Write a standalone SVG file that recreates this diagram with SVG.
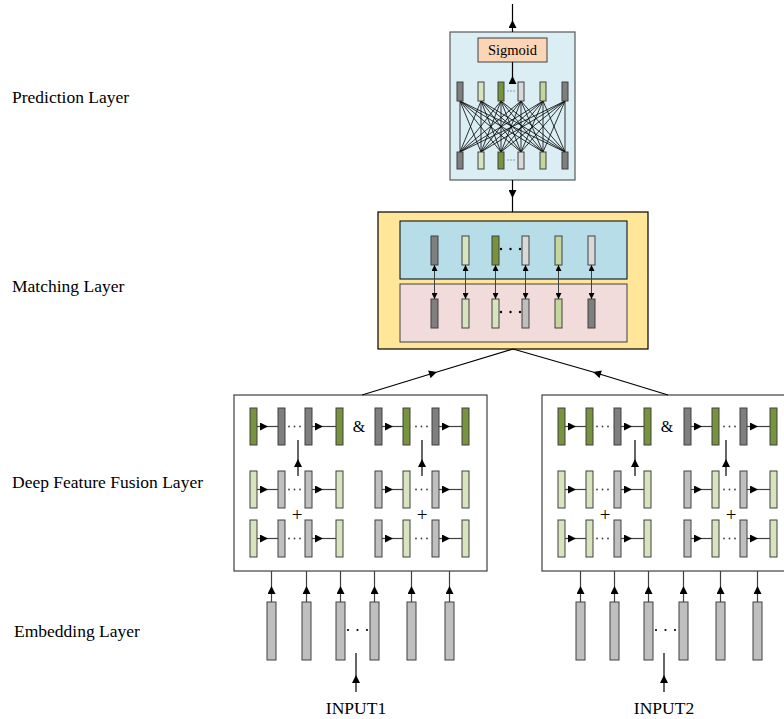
<svg xmlns="http://www.w3.org/2000/svg" width="784" height="719" viewBox="0 0 784 719">
<style>
.lbl{font-family:"Liberation Serif","Times New Roman",serif;font-size:17.5px;fill:#000}
.sym{font-family:"Liberation Serif","Times New Roman",serif;fill:#000;text-anchor:middle}
.bar{stroke:#404040;stroke-width:1}
.dg{fill:#7F7F7F}.lg{fill:#BFBFBF}.vl{fill:#D9D9D9}.lgn{fill:#D7E4BD}.dgn{fill:#77933C}.mgn{fill:#C3D69B}
.hl{stroke:#404040;stroke-width:1.2;fill:none;marker-mid:url(#ah)}
.bk{stroke:#000}
.fc{stroke:#000;stroke-width:0.8}
.dot{fill:#404040}
</style>
<defs>
<marker id="ah" viewBox="0 0 10 10" refX="10" refY="5" markerWidth="10" markerHeight="8" markerUnits="userSpaceOnUse" orient="auto"><path d="M0,0 L10,5 L0,10 z" fill="#000"/></marker>
<marker id="ah2" viewBox="0 0 10 10" refX="10" refY="5" markerWidth="7" markerHeight="6" markerUnits="userSpaceOnUse" orient="auto-start-reverse"><path d="M0,0 L10,5 L0,10 z" fill="#000"/></marker>
</defs>

<g id="labels">
<text class="lbl" x="12" y="103">Prediction Layer</text>
<text class="lbl" x="12" y="292">Matching Layer</text>
<text class="lbl" x="12" y="488">Deep Feature Fusion Layer</text>
<text class="lbl" x="14" y="637">Embedding Layer</text>
</g>

<g id="prediction">
<rect x="450" y="32" width="125" height="148" fill="#DAEEF3" stroke="#595959" stroke-width="1.2"/>
<rect x="478" y="38" width="69" height="24" fill="#FBD5B5" stroke="#404040" stroke-width="1"/>
<text class="sym" x="512.5" y="55" font-size="14.5">Sigmoid</text>
<g id="fullconn">
<path class="fc" d="M460,101L460,152M460,101L481,152M460,101L501,152M460,101L521,152M460,101L543,152M460,101L565,152
M481,101L460,152M481,101L481,152M481,101L501,152M481,101L521,152M481,101L543,152M481,101L565,152
M501,101L460,152M501,101L481,152M501,101L501,152M501,101L521,152M501,101L543,152M501,101L565,152
M521,101L460,152M521,101L481,152M521,101L501,152M521,101L521,152M521,101L543,152M521,101L565,152
M543,101L460,152M543,101L481,152M543,101L501,152M543,101L521,152M543,101L543,152M543,101L565,152
M565,101L460,152M565,101L481,152M565,101L501,152M565,101L521,152M565,101L543,152M565,101L565,152"/>
</g>
<rect class="bar dg" x="457" y="82" width="6" height="19"/>
<rect class="bar lgn" x="478" y="82" width="6" height="19"/>
<rect class="bar dgn" x="498" y="82" width="6" height="19"/>
<rect class="bar vl" x="518" y="82" width="6" height="19"/>
<rect class="bar mgn" x="540" y="82" width="6" height="19"/>
<rect class="bar dg" x="562" y="82" width="6" height="19"/>
<rect class="bar dg" x="457" y="152" width="6" height="17"/>
<rect class="bar lgn" x="478" y="152" width="6" height="17"/>
<rect class="bar dgn" x="498" y="152" width="6" height="17"/>
<rect class="bar vl" x="518" y="152" width="6" height="17"/>
<rect class="bar mgn" x="540" y="152" width="6" height="17"/>
<rect class="bar dg" x="562" y="152" width="6" height="17"/>
<g fill="#7F7F7F">
<circle cx="508" cy="91" r="0.7"/><circle cx="511" cy="91" r="0.7"/><circle cx="514" cy="91" r="0.7"/>
<circle cx="508" cy="160" r="0.7"/><circle cx="511" cy="160" r="0.7"/><circle cx="514" cy="160" r="0.7"/>
</g>
</g>

<g id="matching">
<rect x="378" y="212" width="270" height="137" fill="#FFE699" stroke="#000" stroke-width="1.2"/>
<rect x="400" y="221" width="227" height="58" fill="#B7DEE8" stroke="#000" stroke-width="1"/>
<rect x="400" y="284" width="227" height="58" fill="#F2DCDB" stroke="#404040" stroke-width="1"/>
<rect class="bar dg" x="431" y="236" width="7" height="29"/>
<rect class="bar lgn" x="462" y="236" width="7" height="29"/>
<rect class="bar dgn" x="492" y="236" width="7" height="29"/>
<rect class="bar vl" x="522" y="236" width="7" height="29"/>
<rect class="bar mgn" x="555" y="236" width="7" height="29"/>
<rect class="bar vl" x="588" y="236" width="7" height="29"/>
<rect class="bar dg" x="431" y="299" width="7" height="29"/>
<rect class="bar lgn" x="462" y="299" width="7" height="29"/>
<rect class="bar lgn" x="492" y="299" width="7" height="29"/>
<rect class="bar lg" x="522" y="299" width="7" height="29"/>
<rect class="bar mgn" x="555" y="299" width="7" height="29"/>
<rect class="bar dg" x="588" y="299" width="7" height="29"/>
<g fill="#000">
<circle cx="501" cy="249" r="1.2"/><circle cx="510.5" cy="249" r="1.2"/><circle cx="520" cy="249" r="1.2"/>
<circle cx="501" cy="312" r="1.2"/><circle cx="510.5" cy="312" r="1.2"/><circle cx="520" cy="312" r="1.2"/>
</g>
<g stroke="#404040" stroke-width="1" marker-start="url(#ah2)" marker-end="url(#ah2)">
<line x1="434.5" y1="265" x2="434.5" y2="299"/>
<line x1="465.5" y1="265" x2="465.5" y2="299"/>
<line x1="495.5" y1="265" x2="495.5" y2="299"/>
<line x1="525.5" y1="265" x2="525.5" y2="299"/>
<line x1="558.5" y1="265" x2="558.5" y2="299"/>
<line x1="591.5" y1="265" x2="591.5" y2="299"/>
</g>
</g>

<g id="fusion1">
<rect x="234" y="395" width="253" height="176" fill="#FFFFFF" stroke="#404040" stroke-width="1.2"/>
<g id="f1arrows">
<path class="hl" d="M257,426.5L268,426.5L278,426.5"/><path class="hl" d="M312,426.5L323,426.5L336,426.5"/><path class="hl" d="M382,426.5L393,426.5L403,426.5"/><path class="hl" d="M439,426.5L450,426.5L462,426.5"/>
<path class="hl" d="M257,489.5L268,489.5L278,489.5"/><path class="hl" d="M312,489.5L323,489.5L336,489.5"/><path class="hl" d="M382,489.5L393,489.5L403,489.5"/><path class="hl" d="M439,489.5L450,489.5L462,489.5"/>
<path class="hl" d="M257,538.5L268,538.5L278,538.5"/><path class="hl" d="M312,538.5L323,538.5L336,538.5"/><path class="hl" d="M382,538.5L393,538.5L403,538.5"/><path class="hl" d="M439,538.5L450,538.5L462,538.5"/>
<path class="hl bk" d="M298,476L298,459L298,440"/>
<path class="hl bk" d="M422,476L422,459L422,440"/>
</g>
<g id="f1bars">
<rect class="bar dgn" x="250" y="408" width="7" height="37"/>
<rect class="bar dg" x="278" y="408" width="7" height="37"/>
<rect class="bar dg" x="305" y="408" width="7" height="37"/>
<rect class="bar dgn" x="336" y="408" width="7" height="37"/>
<rect class="bar dg" x="375" y="408" width="7" height="37"/>
<rect class="bar dgn" x="403" y="408" width="7" height="37"/>
<rect class="bar dg" x="432" y="408" width="7" height="37"/>
<rect class="bar dgn" x="462" y="408" width="7" height="37"/>
<rect class="bar lgn" x="250" y="471" width="7" height="37"/>
<rect class="bar lg" x="278" y="471" width="7" height="37"/>
<rect class="bar lg" x="305" y="471" width="7" height="37"/>
<rect class="bar lgn" x="336" y="471" width="7" height="37"/>
<rect class="bar lg" x="375" y="471" width="7" height="37"/>
<rect class="bar lgn" x="403" y="471" width="7" height="37"/>
<rect class="bar lg" x="432" y="471" width="7" height="37"/>
<rect class="bar lgn" x="462" y="471" width="7" height="37"/>
<rect class="bar lgn" x="250" y="520" width="7" height="37"/>
<rect class="bar lg" x="278" y="520" width="7" height="37"/>
<rect class="bar lg" x="305" y="520" width="7" height="37"/>
<rect class="bar lgn" x="336" y="520" width="7" height="37"/>
<rect class="bar lg" x="375" y="520" width="7" height="37"/>
<rect class="bar lgn" x="403" y="520" width="7" height="37"/>
<rect class="bar lg" x="432" y="520" width="7" height="37"/>
<rect class="bar lgn" x="462" y="520" width="7" height="37"/>
</g>
<g class="dot">
<circle cx="289" cy="426.5" r="0.9"/><circle cx="294.5" cy="426.5" r="0.9"/><circle cx="300" cy="426.5" r="0.9"/>
<circle cx="416" cy="426.5" r="0.9"/><circle cx="421.5" cy="426.5" r="0.9"/><circle cx="427" cy="426.5" r="0.9"/>
<circle cx="289" cy="489.5" r="0.9"/><circle cx="294.5" cy="489.5" r="0.9"/><circle cx="300" cy="489.5" r="0.9"/>
<circle cx="416" cy="489.5" r="0.9"/><circle cx="421.5" cy="489.5" r="0.9"/><circle cx="427" cy="489.5" r="0.9"/>
<circle cx="289" cy="538.5" r="0.9"/><circle cx="294.5" cy="538.5" r="0.9"/><circle cx="300" cy="538.5" r="0.9"/>
<circle cx="416" cy="538.5" r="0.9"/><circle cx="421.5" cy="538.5" r="0.9"/><circle cx="427" cy="538.5" r="0.9"/>
</g>
<text class="sym" x="359" y="432" font-size="16">&amp;</text>
<text class="sym" x="297" y="521" font-size="19">+</text>
<text class="sym" x="422" y="521" font-size="19">+</text>
</g>

<g id="fusion2">
<rect x="542" y="395" width="253" height="176" fill="#FFFFFF" stroke="#404040" stroke-width="1.2"/>
<g id="f2arrows">
<path class="hl" d="M565,426.5L576,426.5L586,426.5"/><path class="hl" d="M621,426.5L632,426.5L644,426.5"/><path class="hl" d="M691,426.5L702,426.5L712,426.5"/><path class="hl" d="M747,426.5L758,426.5L770,426.5"/>
<path class="hl" d="M565,489.5L576,489.5L586,489.5"/><path class="hl" d="M621,489.5L632,489.5L644,489.5"/><path class="hl" d="M691,489.5L702,489.5L712,489.5"/><path class="hl" d="M747,489.5L758,489.5L770,489.5"/>
<path class="hl" d="M565,538.5L576,538.5L586,538.5"/><path class="hl" d="M621,538.5L632,538.5L644,538.5"/><path class="hl" d="M691,538.5L702,538.5L712,538.5"/><path class="hl" d="M747,538.5L758,538.5L770,538.5"/>
<path class="hl bk" d="M635,476L635,459L635,440"/>
<path class="hl bk" d="M726,476L726,459L726,440"/>
</g>
<g id="f2bars">
<rect class="bar dgn" x="558" y="408" width="7" height="37"/>
<rect class="bar dgn" x="586" y="408" width="7" height="37"/>
<rect class="bar dg" x="614" y="408" width="7" height="37"/>
<rect class="bar dgn" x="644" y="408" width="7" height="37"/>
<rect class="bar dg" x="684" y="408" width="7" height="37"/>
<rect class="bar dgn" x="712" y="408" width="7" height="37"/>
<rect class="bar dg" x="740" y="408" width="7" height="37"/>
<rect class="bar dgn" x="770" y="408" width="7" height="37"/>
<rect class="bar lgn" x="558" y="471" width="7" height="37"/>
<rect class="bar lgn" x="586" y="471" width="7" height="37"/>
<rect class="bar lg" x="614" y="471" width="7" height="37"/>
<rect class="bar lgn" x="644" y="471" width="7" height="37"/>
<rect class="bar lg" x="684" y="471" width="7" height="37"/>
<rect class="bar lgn" x="712" y="471" width="7" height="37"/>
<rect class="bar lg" x="740" y="471" width="7" height="37"/>
<rect class="bar lgn" x="770" y="471" width="7" height="37"/>
<rect class="bar lgn" x="558" y="520" width="7" height="37"/>
<rect class="bar lgn" x="586" y="520" width="7" height="37"/>
<rect class="bar lg" x="614" y="520" width="7" height="37"/>
<rect class="bar lgn" x="644" y="520" width="7" height="37"/>
<rect class="bar lg" x="684" y="520" width="7" height="37"/>
<rect class="bar lgn" x="712" y="520" width="7" height="37"/>
<rect class="bar lg" x="740" y="520" width="7" height="37"/>
<rect class="bar lgn" x="770" y="520" width="7" height="37"/>
</g>
<g class="dot">
<circle cx="597" cy="426.5" r="0.9"/><circle cx="602.5" cy="426.5" r="0.9"/><circle cx="608" cy="426.5" r="0.9"/>
<circle cx="724" cy="426.5" r="0.9"/><circle cx="729.5" cy="426.5" r="0.9"/><circle cx="735" cy="426.5" r="0.9"/>
<circle cx="597" cy="489.5" r="0.9"/><circle cx="602.5" cy="489.5" r="0.9"/><circle cx="608" cy="489.5" r="0.9"/>
<circle cx="724" cy="489.5" r="0.9"/><circle cx="729.5" cy="489.5" r="0.9"/><circle cx="735" cy="489.5" r="0.9"/>
<circle cx="597" cy="538.5" r="0.9"/><circle cx="602.5" cy="538.5" r="0.9"/><circle cx="608" cy="538.5" r="0.9"/>
<circle cx="724" cy="538.5" r="0.9"/><circle cx="729.5" cy="538.5" r="0.9"/><circle cx="735" cy="538.5" r="0.9"/>
</g>
<text class="sym" x="667" y="432" font-size="16">&amp;</text>
<text class="sym" x="605" y="521" font-size="19">+</text>
<text class="sym" x="731" y="521" font-size="19">+</text>
</g>

<g id="embedding1">
<rect class="bar lg" x="267" y="602" width="9" height="58"/>
<rect class="bar lg" x="302" y="602" width="9" height="58"/>
<rect class="bar lg" x="336" y="602" width="9" height="58"/>
<rect class="bar lg" x="370" y="602" width="9" height="58"/>
<rect class="bar lg" x="407" y="602" width="9" height="58"/>
<rect class="bar lg" x="445" y="602" width="9" height="58"/>
<g fill="#000"><circle cx="348" cy="630" r="1.1"/><circle cx="357.5" cy="630" r="1.1"/><circle cx="367" cy="630" r="1.1"/></g>
<text class="lbl" x="356" y="714" text-anchor="middle">INPUT1</text>
</g>

<g id="embedding2">
<rect class="bar lg" x="576" y="602" width="9" height="58"/>
<rect class="bar lg" x="610" y="602" width="9" height="58"/>
<rect class="bar lg" x="644" y="602" width="9" height="58"/>
<rect class="bar lg" x="679" y="602" width="9" height="58"/>
<rect class="bar lg" x="716" y="602" width="9" height="58"/>
<rect class="bar lg" x="753" y="602" width="9" height="58"/>
<g fill="#000"><circle cx="656" cy="630" r="1.1"/><circle cx="665.5" cy="630" r="1.1"/><circle cx="675" cy="630" r="1.1"/></g>
<text class="lbl" x="664" y="714" text-anchor="middle">INPUT2</text>
</g>

<g id="connectors">
<path class="hl bk" d="M512.5,32L512.5,20L512.5,4"/>
<path class="hl bk" d="M512.5,82L512.5,76L512.5,62"/>
<path class="hl bk" d="M512.5,180L512.5,198L512.5,212"/>
<path class="hl bk" d="M362,395L437,372L513,349"/>
<path class="hl bk" d="M668,395L593,372L513,349"/>
<path class="hl" d="M271.5,602L271.5,586L271.5,571"/><path class="hl" d="M306.5,602L306.5,586L306.5,571"/><path class="hl" d="M340.5,602L340.5,586L340.5,571"/><path class="hl" d="M374.5,602L374.5,586L374.5,571"/><path class="hl" d="M411.5,602L411.5,586L411.5,571"/><path class="hl" d="M449.5,602L449.5,586L449.5,571"/>
<path class="hl" d="M580.5,602L580.5,586L580.5,571"/><path class="hl" d="M614.5,602L614.5,586L614.5,571"/><path class="hl" d="M648.5,602L648.5,586L648.5,571"/><path class="hl" d="M683.5,602L683.5,586L683.5,571"/><path class="hl" d="M720.5,602L720.5,586L720.5,571"/><path class="hl" d="M757.5,602L757.5,586L757.5,571"/>
<path class="hl bk" d="M356,692L356,675L356,653"/>
<path class="hl bk" d="M664,692L664,675L664,653"/>
</g>
</svg>
